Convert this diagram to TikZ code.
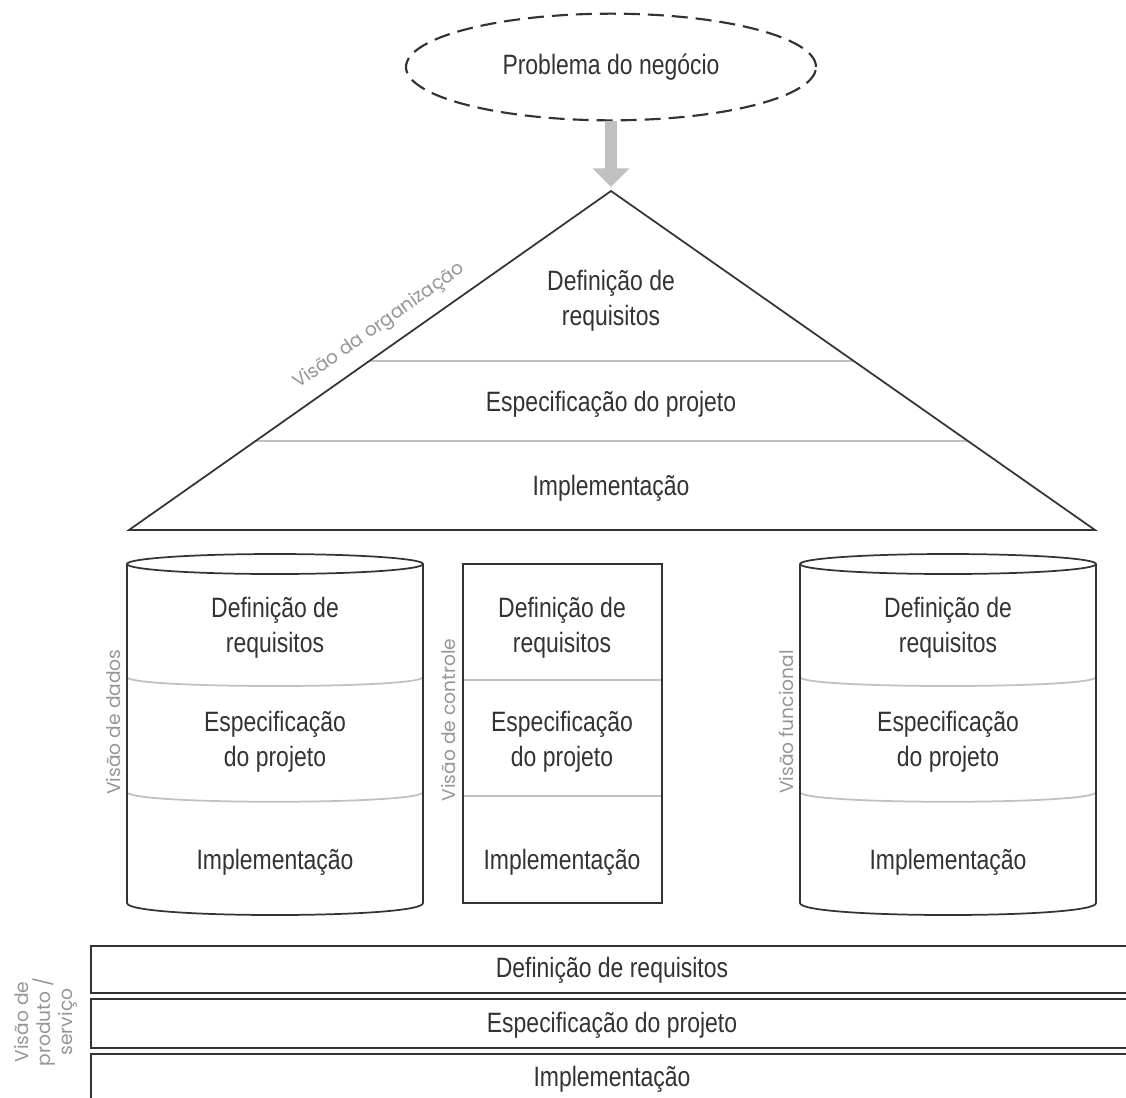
\documentclass[tikz,border=0pt]{standalone}
\usepackage{fontspec}
\setmainfont{Liberation Sans}[FakeStretch=0.82]
\newfontfamily\labelfont{Poppins}
\usetikzlibrary{shapes.geometric,arrows.meta,calc}
\definecolor{ink}{RGB}{51,51,51}
\definecolor{rulegray}{RGB}{192,192,192}
\definecolor{faint}{RGB}{150,150,150}
\definecolor{shaftgray}{RGB}{192,192,192}

\begin{document}
\begin{tikzpicture}[x=0.75pt,y=-0.75pt,
  txt/.style={text=ink,font=\fontsize{21}{26}\selectfont,align=center,inner sep=0pt},
  viewlbl/.style={text=faint,font=\labelfont\fontsize{14}{16.5}\selectfont,align=center,inner sep=0pt},
  outline/.style={draw=ink,line width=1.3pt},
  divider/.style={draw=rulegray,line width=1.3pt},
  ]
\clip (0,0) rectangle (1126,1097);
\fill[white] (0,0) rectangle (1126,1097);

% problem statement
\node[ellipse,draw=ink,line width=1.6pt,dash pattern=on 12pt off 6pt,
      minimum width=307.5pt,minimum height=80pt,inner sep=0pt,txt] (prob) at (611,67) {Problema do negócio};

% organisation view: triangle
\coordinate (apex) at (611,191);
\coordinate (bl) at (129,530);
\coordinate (br) at (1095,530);
\draw[shaftgray,line width=9pt,-{Triangle[width=27pt,length=14pt]},shorten >=3pt] (prob.south) -- (apex);
\draw[divider] ($(apex)!0.5015!(bl)$) -- ($(apex)!0.5015!(br)$);
\draw[divider] ($(apex)!0.7375!(bl)$) -- ($(apex)!0.7375!(br)$);
\draw[outline,line join=miter] (apex) -- (bl) -- (br) -- cycle;
\node[txt] (t1) at (611,301) {Definição de\\requisitos};
\node[txt] (t2) at (611,404) {Especificação do projeto};
\node[txt] (t3) at (611,488) {Implementação};
\node[viewlbl,rotate=35.2,anchor=base] (orgview) at (382,330) {Visão da organização};

% data view: left cylinder
\draw[divider] (127,677) .. controls (127,689) and (423,689) .. (423,677);
\draw[divider] (127,792) .. controls (127,805) and (423,805) .. (423,792);
\draw[outline] (275,564) ellipse [x radius=148,y radius=10];
\draw[outline] (127,564) -- (127,903) .. controls (127,919) and (423,919) .. (423,903) -- (423,564);
\node[txt] (d1) at (275,628) {Definição de\\requisitos};
\node[txt] (d2) at (275,742) {Especificação\\do projeto};
\node[txt] (d3) at (275,862) {Implementação};
\node[viewlbl,rotate=90] (dataview) at (113,722) {Visão de dados};

% control view: middle box
\draw[divider] (463,680) -- (662,680);
\draw[divider] (463,796) -- (662,796);
\draw[outline] (463,564) rectangle (662,903);
\node[txt] (c1) at (562,628) {Definição de\\requisitos};
\node[txt] (c2) at (562,742) {Especificação\\do projeto};
\node[txt] (c3) at (562,862) {Implementação};
\node[viewlbl,rotate=90] (ctrlview) at (448,720) {Visão de controle};

% functional view: right cylinder
\draw[divider] (800,677) .. controls (800,689) and (1096,689) .. (1096,677);
\draw[divider] (800,792) .. controls (800,805) and (1096,805) .. (1096,792);
\draw[outline] (948,564) ellipse [x radius=148,y radius=10];
\draw[outline] (800,564) -- (800,903) .. controls (800,919) and (1096,919) .. (1096,903) -- (1096,564);
\node[txt] (f1) at (948,628) {Definição de\\requisitos};
\node[txt] (f2) at (948,742) {Especificação\\do projeto};
\node[txt] (f3) at (948,862) {Implementação};
\node[viewlbl,rotate=90] (funcview) at (786,722) {Visão funcional};

% product / service view: stacked bars
\draw[outline] (91,946) rectangle (1140,993);
\draw[outline] (91,999) rectangle (1140,1048);
\draw[outline] (91,1054) rectangle (1140,1110);
\node[txt] (p1) at (612,970) {Definição de requisitos};
\node[txt] (p2) at (612,1025) {Especificação do projeto};
\node[txt] (p3) at (612,1079) {Implementação};
\node[viewlbl,rotate=90] (prodview) at (46,1022) {Visão de\\produto /\\serviço};
\end{tikzpicture}
\end{document}
